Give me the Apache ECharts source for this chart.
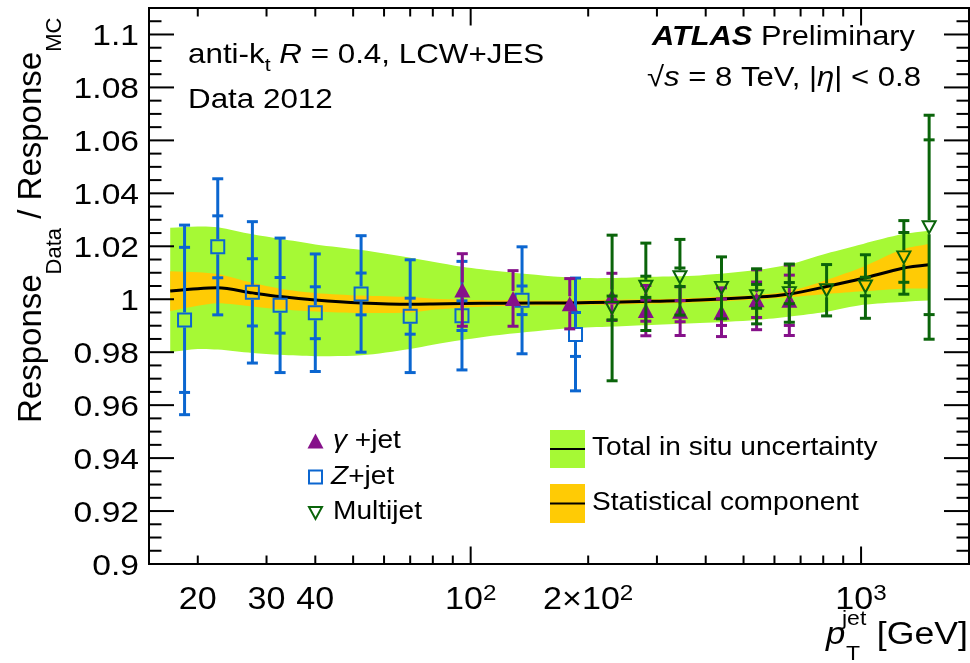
<!DOCTYPE html>
<html><head><meta charset="utf-8">
<script src="https://cdn.jsdelivr.net/npm/echarts@6/dist/echarts.min.js"></script>
<style>html,body{margin:0;padding:0;background:#fff}#c{width:970px;height:663px}</style>
</head><body><div id="c"></div>
<script>
const FF = '"Liberation Sans", Arial, Helvetica, sans-serif';

// ---- Z+jet ----
const zX    = [18.5, 22.5, 27.6, 32.5, 40, 52.4, 70, 95, 135.4, 185.6];
const zY    = [0.9922, 1.0198, 1.0026, 0.9977, 0.9949, 1.0020, 0.9936, 0.9938, 0.9996, 0.9867];
const zTot  = [0.0358, 0.0257, 0.0267, 0.0254, 0.0222, 0.0220, 0.0213, 0.0205, 0.0202, 0.0213];
const zStat = [0.0274, 0.0117, 0.0127, 0.0105, 0.0098, 0.0079, 0.0068, 0.0056, 0.0054, 0.0083];
// ---- gamma+jet ----
const gX    = [95.2, 128.4, 179.4, 230, 281, 344, 439, 540, 655];
const gY    = [1.0035, 1.0003, 0.9983, 1.0009, 0.9957, 0.9955, 0.9951, 0.9998, 0.9996];
const gTot  = [0.0137, 0.0105, 0.0095, 0.0089, 0.0095, 0.0092, 0.0092, 0.0113, 0.0133];
const gStat = [0.003, 0.003, 0.003, 0.0035, 0.004, 0.004, 0.005, 0.0067, 0.0095];
// ---- Multijet ----
const mX    = [230.3, 281, 343.6, 439, 540, 655, 816, 1026, 1287, 1494];
const mY    = [0.9967, 1.0047, 1.0083, 1.0043, 1.0011, 1.0023, 1.0034, 1.0048, 1.0158, 1.0272];
const mTot  = [0.0275, 0.0165, 0.0143, 0.0117, 0.0104, 0.0110, 0.0097, 0.0120, 0.0139, 0.0423];
const mStat = [0.0045, 0.004, 0.0035, 0.0033, 0.0045, 0.004, 0.003, 0.0035, 0.0094, 0.033];
// ---- combination bands ----
const bandPt  = [17, 20, 22.5, 27.6, 32.5, 40, 52.5, 70, 80, 95, 120, 180, 230, 290, 386, 540, 657, 816, 1012, 1278, 1490];
const totUp   = [1.0270, 1.0275, 1.0272, 1.0245, 1.0228, 1.0207, 1.0186, 1.0157, 1.0142, 1.0123, 1.0105, 1.0082, 1.0080, 1.0085, 1.0090, 1.0110, 1.0132, 1.0173, 1.0209, 1.0246, 1.0259];
const statUp  = [1.0106, 1.0102, 1.0095, 1.0062, 1.0040, 1.0024, 1.0014, 1.0008, 1.0002, 0.9998, 0.9996, 0.9995, 0.9998, 1.0000, 1.0006, 1.0016, 1.0031, 1.0073, 1.0123, 1.0189, 1.0209];
const central = [1.0031, 1.0040, 1.0043, 1.0024, 1.0010, 0.9997, 0.9986, 0.9981, 0.9982, 0.9984, 0.9985, 0.9986, 0.9989, 0.9992, 0.9997, 1.0008, 1.0020, 1.0048, 1.0079, 1.0117, 1.0130];
const statLo  = [0.9955, 0.9975, 0.9985, 0.9973, 0.9962, 0.9954, 0.9948, 0.9950, 0.9960, 0.9968, 0.9974, 0.9978, 0.9980, 0.9983, 0.9989, 0.9999, 1.0008, 1.0020, 1.0030, 1.0040, 1.0041];
const totLo   = [0.9800, 0.9812, 0.9810, 0.9797, 0.9790, 0.9785, 0.9788, 0.9812, 0.9828, 0.9846, 0.9866, 0.9890, 0.9897, 0.9903, 0.9910, 0.9922, 0.9935, 0.9953, 0.9979, 0.9990, 0.9995];
// ---- axes ----
const X_MIN = 15, X_MAX = 1890, Y_MIN = 0.9, Y_MAX = 1.11;
const xMajorTicks = [100, 1000];
const xMinorTicks = [20, 30, 40, 50, 60, 70, 80, 90, 200, 300, 400, 500, 600, 700, 800, 900];
const yMajorTicks = [0.9, 0.92, 0.94, 0.96, 0.98, 1, 1.02, 1.04, 1.06, 1.08, 1.1];
const yMinorTicks = [0.905, 0.91, 0.915, 0.925, 0.93, 0.935, 0.945, 0.95, 0.955, 0.965, 0.97, 0.975, 0.985, 0.99, 0.995,
  1.005, 1.01, 1.015, 1.025, 1.03, 1.035, 1.045, 1.05, 1.055, 1.065, 1.07, 1.075, 1.085, 1.09, 1.095, 1.105];
const xLabelValues = [20, 30, 40, 100, 200, 1000];
const xLabelMain = ['20', '30', '40', '10', '2\u00d710', '10'];
const xLabelSup  = ['', '', '', '2', '2', '3'];
const yLabelValues = yMajorTicks;
const yLabelTexts = ['0.9', '0.92', '0.94', '0.96', '0.98', '1', '1.02', '1.04', '1.06', '1.08', '1.1'];

const BLUE = '#0b66d0', PURPLE = '#86118a', DGREEN = '#0a640a', LIME = '#a6f935', ORANGE = '#ffcb05';

const ctx = document.createElement('canvas').getContext('2d');
function tw(t, fs, st, wt) { ctx.font = (st || 'normal') + ' ' + (wt || 'normal') + ' ' + fs + 'px ' + FF; return ctx.measureText(t).width; }
function textEl(t, x, y, fs, opt) {
  opt = opt || {};
  const al = opt.align || 'left';
  return { type: 'text', x: x, y: y, scaleX: opt.sx || 1, z: 50,
    style: { text: t, fontSize: fs, fontFamily: FF, fontStyle: opt.st || 'normal', fontWeight: opt.wt || 'normal',
      fill: '#000', align: al, textAlign: al, verticalAlign: 'middle', textVerticalAlign: 'middle' } };
}
function runs(x0, base, parts, sx) {
  let x = x0; const out = [];
  parts.forEach(function (p) {
    const t = p[0], fs = p[1], st = p[2] || 'normal', wt = p[3] || 'normal', dy = p[4] || 0;
    out.push(textEl(t, x, base + dy - 0.3465 * fs, fs, { st: st, wt: wt, sx: sx }));
    x += tw(t, fs, st, wt) * sx;
  });
  return out;
}

function bandSeries(lo, hi, color, z) {
  return { type: 'custom', z: z, silent: true, clip: true,
    data: [[bandPt[0], lo[0]]],
    renderItem: function (params, api) {
      const n = bandPt.length, top = [], bot = [];
      for (let i = 0; i < n; i++) top.push(api.coord([bandPt[i], hi[i]]));
      for (let i = n - 1; i >= 0; i--) bot.push(api.coord([bandPt[i], lo[i]]));
      const pts = [top[0]].concat(top, [top[n - 1], bot[0]], bot, [bot[n - 1]]);
      return { type: 'polygon', shape: { points: pts, smooth: 0.3 }, style: { fill: color, stroke: null } };
    } };
}

function errSeries(xs, ys, te, se, color, half, z) {
  return { type: 'custom', z: z, silent: true, clip: false,
    data: xs.map(function (x, i) { return [x, ys[i], te[i], se[i]]; }),
    renderItem: function (params, api) {
      const x = api.value(0), y = api.value(1), t = api.value(2), s = api.value(3);
      const c = api.coord([x, y]);
      const top = api.coord([x, y + t])[1], bot = api.coord([x, y - t])[1];
      const sTop = api.coord([x, y + s])[1], sBot = api.coord([x, y - s])[1];
      const st = { stroke: color, lineWidth: 3 };
      const ch = [];
      function ln(x1, y1, x2, y2) { ch.push({ type: 'line', shape: { x1: x1, y1: y1, x2: x2, y2: y2 }, style: st }); }
      if (top < c[1] - half) ln(c[0], c[1] - half, c[0], top);
      if (bot > c[1] + half) ln(c[0], c[1] + half, c[0], bot);
      const cw = 5.5;
      ln(c[0] - cw, top, c[0] + cw, top);
      ln(c[0] - cw, bot, c[0] + cw, bot);
      if (c[1] - sTop > half + 2) { ln(c[0] - cw, sTop, c[0] + cw, sTop); ln(c[0] - cw, sBot, c[0] + cw, sBot); }
      return { type: 'group', children: ch };
    } };
}

function tickSeries(vals, axis, len) {
  return { type: 'custom', z: 30, silent: true, clip: false,
    data: vals.map(function (v) { return axis === 'x' ? [v, Y_MIN] : [X_MIN, v]; }),
    renderItem: function (params, api) {
      const st = { stroke: '#000', lineWidth: 2 };
      if (axis === 'x') {
        const v = api.value(0);
        const a = api.coord([v, Y_MIN]), b = api.coord([v, Y_MAX]);
        return { type: 'group', children: [
          { type: 'line', shape: { x1: a[0], y1: a[1], x2: a[0], y2: a[1] - len }, style: st },
          { type: 'line', shape: { x1: b[0], y1: b[1], x2: b[0], y2: b[1] + len }, style: st }] };
      }
      const v = api.value(1);
      const a = api.coord([X_MIN, v]), b = api.coord([X_MAX, v]);
      return { type: 'group', children: [
        { type: 'line', shape: { x1: a[0], y1: a[1], x2: a[0] + len, y2: a[1] }, style: st },
        { type: 'line', shape: { x1: b[0], y1: b[1], x2: b[0] - len, y2: b[1] }, style: st }] };
    } };
}

const xLabelSeries = { type: 'custom', z: 30, silent: true, clip: false,
  data: xLabelValues.map(function (v) { return [v, Y_MIN]; }),
  renderItem: function (params, api) {
    const i = params.dataIndex, p = api.coord([api.value(0), Y_MIN]);
    const sx = 1.1, fm = 31, fsup = 22;
    const wm = tw(xLabelMain[i], fm) * sx, ws = xLabelSup[i] ? tw(xLabelSup[i], fsup) * sx : 0;
    const x0 = p[0] - (wm + ws) / 2, cy = p[1] + 36.5;
    const ch = [textEl(xLabelMain[i], x0, cy, fm, { sx: sx })];
    if (xLabelSup[i]) ch.push(textEl(xLabelSup[i], x0 + wm, cy - 7, fsup, { sx: sx }));
    return { type: 'group', children: ch };
  } };

const yLabelSeries = { type: 'custom', z: 30, silent: true, clip: false,
  data: yLabelValues.map(function (v) { return [X_MIN, v]; }),
  renderItem: function (params, api) {
    const i = params.dataIndex, p = api.coord([X_MIN, api.value(1)]);
    return textEl(yLabelTexts[i], p[0] - 10, p[1] + 2.5, 30, { sx: 1.12, align: 'right' });
  } };

function pairs(xs, ys) { return xs.map(function (x, i) { return [x, ys[i]]; }); }

const series = [
  bandSeries(totLo, totUp, LIME, 1),
  bandSeries(statLo, statUp, ORANGE, 2),
  { type: 'line', data: pairs(bandPt, central), smooth: 0.3, symbol: 'none', lineStyle: { color: '#000', width: 3 }, z: 3, silent: true },
  errSeries(zX, zY, zTot, zStat, BLUE, 7.5, 4),
  { type: 'scatter', data: pairs(zX, zY), symbol: 'rect', symbolSize: 13, itemStyle: { color: 'rgba(0,0,0,0)', borderColor: BLUE, borderWidth: 2, opacity: 1 }, z: 5, silent: true },
  errSeries(gX, gY, gTot, gStat, PURPLE, 7.5, 6),
  { type: 'scatter', data: pairs(gX, gY), symbol: 'triangle', symbolSize: [16, 15], itemStyle: { color: PURPLE, opacity: 1 }, z: 7, silent: true },
  errSeries(mX, mY, mTot, mStat, DGREEN, 7, 8),
  { type: 'scatter', data: pairs(mX, mY), symbol: 'triangle', symbolRotate: 180, symbolSize: [13, 12], itemStyle: { color: 'rgba(0,0,0,0)', borderColor: DGREEN, borderWidth: 2, opacity: 1 }, z: 9, silent: true },
  tickSeries(xMajorTicks, 'x', 17.5),
  tickSeries(xMinorTicks, 'x', 8.5),
  tickSeries(yMajorTicks, 'y', 25),
  tickSeries(yMinorTicks, 'y', 12.5),
  xLabelSeries,
  yLabelSeries
];

const g = [];
function add(arr) { arr.forEach(function (e) { g.push(e); }); }
add(runs(188, 65, [['anti-k', 28], ['t', 19, 'normal', 'normal', 7], [' ', 28], ['R', 28, 'italic'], [' = 0.4, LCW+JES', 28]], 1.12));
add(runs(188, 110, [['Data 2012', 28]], 1.12));
add(runs(652, 47, [['ATLAS', 28, 'italic', 'bold'], [' Preliminary', 28]], 1.1));
add(runs(647, 88, [['\u221a', 28], ['s', 28, 'italic'], [' = 8 TeV, |', 28], ['\u03b7', 28, 'italic'], ['| < 0.8', 28]], 1.11));
g.push({ type: 'polygon', shape: { points: [[307.5, 448.5], [323.5, 448.5], [315.5, 433.5]] }, style: { fill: PURPLE }, z: 50 });
g.push({ type: 'rect', shape: { x: 309, y: 470.5, width: 13, height: 13 }, style: { fill: 'none', stroke: BLUE, lineWidth: 2 }, z: 50 });
g.push({ type: 'polygon', shape: { points: [[309, 507], [322, 507], [315.5, 519]] }, style: { fill: 'none', stroke: DGREEN, lineWidth: 2 }, z: 50 });
add(runs(333, 450, [['\u03b3', 26, 'italic'], [' +jet', 26]], 1.08));
add(runs(331, 486, [['Z', 26, 'italic'], ['+jet', 26]], 1.08));
add(runs(333, 521, [['Multijet', 26]], 1.08));
g.push({ type: 'rect', shape: { x: 550, y: 430, width: 35, height: 38 }, style: { fill: LIME }, z: 50 });
g.push({ type: 'line', shape: { x1: 550, y1: 449, x2: 585, y2: 449 }, style: { stroke: '#000', lineWidth: 2 }, z: 51 });
g.push({ type: 'rect', shape: { x: 550, y: 484, width: 35, height: 39 }, style: { fill: ORANGE }, z: 50 });
g.push({ type: 'line', shape: { x1: 550, y1: 503.5, x2: 585, y2: 503.5 }, style: { stroke: '#000', lineWidth: 2 }, z: 51 });
add(runs(592, 457, [['Total in situ uncertainty', 26]], 1.08));
add(runs(592, 511.5, [['Statistical component', 26]], 1.08));
add(runs(826, 646, [['p', 31, 'italic']], 1.12));
add(runs(842, 626, [['jet', 20]], 1.15));
add(runs(846, 661, [['T', 20]], 1.15));
add(runs(968 - tw('[GeV]', 31) * 1.15, 646, [['[GeV]', 31]], 1.15));
(function () {
  const fm = 33, fs = 22;
  const parts = [['Response', fm, 0], ['Data', fs, 20], [' / Response', fm, 0], ['MC', fs, 20]];
  let x = 0; const ch = [];
  parts.forEach(function (p) {
    ch.push(textEl(p[0], x, p[2] - 0.3465 * p[1], p[1]));
    x += tw(p[0], p[1]);
  });
  g.push({ type: 'group', x: 43, y: 423, rotation: Math.PI / 2, children: ch, z: 50 });
})();

const chart = echarts.init(document.getElementById('c'), null, { renderer: 'canvas' });
chart.setOption({
  animation: false,
  backgroundColor: '#fff',
  grid: { left: 149, right: 1, top: 8, bottom: 99, show: true, borderColor: '#000', borderWidth: 2, backgroundColor: 'rgba(0,0,0,0)' },
  xAxis: { type: 'log', logBase: 10, min: X_MIN, max: X_MAX, show: false },
  yAxis: { type: 'value', min: Y_MIN, max: Y_MAX, show: false },
  series: series,
  graphic: { elements: g }
});
</script>
</body></html>
